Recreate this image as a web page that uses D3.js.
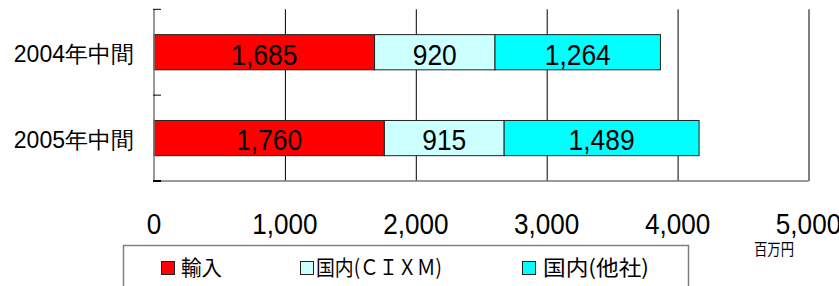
<!DOCTYPE html>
<html>
<head>
<meta charset="utf-8">
<script src="https://cdn.jsdelivr.net/npm/d3@7"></script>
<style>
  body { margin: 0; background: #fff; }
  svg { display: block; }
</style>
</head>
<body>
<div id="chart"></div>
<script>
// Data
const categories = ["2004年中間", "2005年中間"];
const seriesNames = ["輸入", "国内(ＣＩＸＭ)", "国内(他社)"];
const importValues = [1685, 1760];
const cixmValues = [920, 915];
const otherValues = [1264, 1489];
const xTicks = [0, 1000, 2000, 3000, 4000, 5000];
const unitLabel = "百万円";

const colors = ["#ff0000", "#ccffff", "#00ffff"];
const latin = "'Liberation Sans', Arial, sans-serif";
const cjk = "'Noto Sans CJK JP', 'Noto Sans CJK SC', sans-serif";

const width = 839, height = 286;
const svg = d3.select("#chart").append("svg")
  .attr("width", width)
  .attr("height", height);

// Scales
const x = d3.scaleLinear().domain([0, 5000]).range([154, 808.5]);
const y = d3.scaleBand().domain(categories).range([9.3, 181])
  .paddingInner(0.59).paddingOuter(0.295);
const plotTop = 9.3, plotBottom = 181;

// Stack the series
const rows = categories.map((c, i) => ({
  cat: c, s0: importValues[i], s1: cixmValues[i], s2: otherValues[i]
}));
const stack = d3.stack().keys(["s0", "s1", "s2"])(rows);

// Grid lines + tick labels via bottom axis
const xAxis = svg.append("g")
  .attr("transform", `translate(0,${plotBottom})`)
  .call(d3.axisBottom(x).tickValues(xTicks)
    .tickSize(-(plotBottom - plotTop)).tickFormat(""));
xAxis.select(".domain").remove();
xAxis.selectAll(".tick line")
  .attr("stroke", "#000")
  .attr("stroke-width", 1)
  .filter(d => d === 0).remove();

// tick labels (slightly condensed)
svg.append("g").selectAll("text")
  .data(xTicks)
  .enter().append("text")
  .attr("transform", d => `translate(${x(d)},234) scale(0.9,1)`)
  .attr("text-anchor", "middle")
  .attr("font-family", latin)
  .attr("font-size", "29px")
  .attr("fill", "#000")
  .text(d => d3.format(",")(d));

// Bars
const layer = svg.append("g").selectAll("g")
  .data(stack)
  .enter().append("g")
  .attr("fill", (d, i) => colors[i]);

layer.selectAll("rect")
  .data(d => d)
  .enter().append("rect")
  .attr("x", d => x(d[0]))
  .attr("y", d => y(d.data.cat))
  .attr("width", d => x(d[1]) - x(d[0]))
  .attr("height", y.bandwidth())
  .attr("stroke", "#222")
  .attr("stroke-width", 1);

layer.selectAll("text")
  .data(d => d)
  .enter().append("text")
  .attr("transform", d => {
    const cx = (x(d[0]) + x(d[1])) / 2;
    const cy = y(d.data.cat) + y.bandwidth() / 2 + 12.3;
    return `translate(${cx},${cy}) scale(0.88,1)`;
  })
  .attr("text-anchor", "middle")
  .attr("font-family", latin)
  .attr("font-size", "30px")
  .attr("fill", "#000")
  .text(d => d3.format(",")(d[1] - d[0]));

// Axis lines (grey)
svg.append("line")
  .attr("x1", x(0)).attr("x2", x(0))
  .attr("y1", plotTop).attr("y2", plotBottom)
  .attr("stroke", "#777").attr("stroke-width", 1.5);
svg.append("line")
  .attr("x1", x(0)).attr("x2", x(5000))
  .attr("y1", plotBottom).attr("y2", plotBottom)
  .attr("stroke", "#777").attr("stroke-width", 1.5);

// Category ticks on the left axis (pointing inward)
const step = y.step();
const catTicks = [plotTop, plotTop + step, plotBottom];
svg.append("g").selectAll("line")
  .data(catTicks)
  .enter().append("line")
  .attr("x1", x(0) - 1).attr("x2", x(0) + 7)
  .attr("y1", d => d).attr("y2", d => d)
  .attr("stroke", "#000").attr("stroke-width", (d, i) => i === 2 ? 2 : 1);

// Category labels
svg.append("g").selectAll("text")
  .data(categories)
  .enter().append("text")
  .attr("x", 134)
  .attr("y", d => y(d) + y.bandwidth() / 2 + 10.2)
  .attr("text-anchor", "end")
  .attr("font-family", latin)
  .attr("font-size", "23px")
  .attr("fill", "#000")
  .text(d => d);

// Unit label
svg.append("text")
  .attr("x", 754).attr("y", 255)
  .attr("font-family", cjk)
  .attr("font-size", "16px")
  .attr("textLength", 40)
  .attr("lengthAdjust", "spacingAndGlyphs")
  .attr("fill", "#000")
  .text(unitLabel);

// Legend
svg.append("rect")
  .attr("x", 123.5).attr("y", 245.5)
  .attr("width", 565).attr("height", 60)
  .attr("fill", "#fff")
  .attr("stroke", "#808080").attr("stroke-width", 1.5);

const legendItems = [
  { box: 161, tx: 181, len: 41 },
  { box: 300, tx: 316, len: 126 },
  { box: 522, tx: 543, len: 106 },
];
const legend = svg.append("g").selectAll("g")
  .data(seriesNames)
  .enter().append("g");
legend.append("rect")
  .attr("x", (d, i) => legendItems[i].box + 0.5)
  .attr("y", 261.5)
  .attr("width", 13).attr("height", 13)
  .attr("fill", (d, i) => colors[i])
  .attr("stroke", "#222").attr("stroke-width", 1);
legend.append("text")
  .attr("x", (d, i) => legendItems[i].tx)
  .attr("y", 275)
  .attr("font-family", cjk)
  .attr("font-size", "21px")
  .attr("textLength", (d, i) => legendItems[i].len)
  .attr("lengthAdjust", "spacingAndGlyphs")
  .attr("fill", "#000")
  .text(d => d);
</script>
</body>
</html>
